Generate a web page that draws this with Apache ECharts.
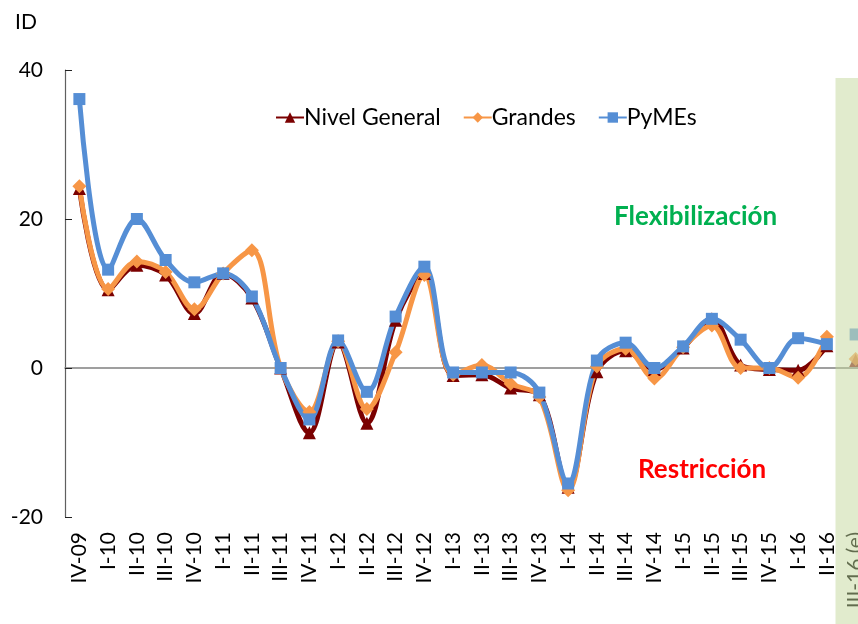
<!DOCTYPE html>
<html>
<head>
<meta charset="utf-8">
<script src="https://cdn.jsdelivr.net/npm/echarts@6/dist/echarts.min.js"></script>
<style>
  html, body { margin: 0; padding: 0; background: #fff; }
  #chart { width: 858px; height: 624px; }
</style>
</head>
<body>
<div id="chart"></div>
<script>
// trimestres
var categories = ['IV-09', 'I-10', 'II-10', 'III-10', 'IV-10', 'I-11', 'II-11', 'III-11', 'IV-11',
  'I-12', 'II-12', 'III-12', 'IV-12', 'I-13', 'II-13', 'III-13', 'IV-13', 'I-14', 'II-14',
  'III-14', 'IV-14', 'I-15', 'II-15', 'III-15', 'IV-15', 'I-16', 'II-16', 'III-16 (e)'];

var nivelGeneral = [24.1, 10.5, 13.8, 12.5, 7.3, 12.7, 9.4, 0, -8.7, 3.5, -7.4, 6.4, 12.7, -1.0,
  -0.9, -2.7, -3.6, -16.0, -0.5, 2.3, -0.2, 2.7, 6.6, 0.4, -0.2, -0.3, 3.0];
var grandes = [24.4, 10.6, 14.3, 12.9, 7.9, 12.7, 15.8, 0, -5.9, 3.6, -5.5, 2.1, 12.5, -0.9,
  0.4, -2.1, -3.9, -16.4, 0.2, 2.6, -1.4, 2.8, 5.7, 0, 0, -1.3, 4.2];
var pymes = [36.1, 13.2, 20.0, 14.5, 11.5, 12.7, 9.6, 0, -6.9, 3.7, -3.2, 6.9, 13.6, -0.6,
  -0.6, -0.6, -3.3, -15.5, 1.0, 3.4, 0, 2.9, 6.6, 3.8, 0, 4.0, 3.2];

// estimacion III-16 (puntos sueltos)
var estNivel = 1.0;
var estGrandes = 1.2;
var estPymes = 4.5;

var yTicks = [-20, 0, 20, 40];

var font = 'Lato, "DejaVu Sans", sans-serif';
var chart = echarts.init(document.getElementById('chart'));

chart.setOption({
  animation: false,
  textStyle: { fontFamily: font },
  grid: { left: 65, top: 70, bottom: 107, width: 805, outerBoundsMode: 'none', containLabel: false },
  legend: {
    left: 270,
    top: 101,
    itemGap: 22,
    itemWidth: 28,
    itemHeight: 13,
    textStyle: { fontSize: 23, color: '#000', fontFamily: font, padding: [0, 0, 0, -5] },
    data: ['Nivel General', 'Grandes', 'PyMEs']
  },
  xAxis: [
    {
      type: 'category',
      data: categories,
      axisLine: { onZero: true, lineStyle: { color: '#808080', width: 1.5 } },
      axisTick: { inside: true, length: 6, lineStyle: { color: '#222' } },
      axisLabel: { show: false },
      splitLine: { show: false }
    },
    {
      type: 'category',
      data: categories,
      position: 'bottom',
      axisLine: { show: false, onZero: false },
      axisTick: { show: false },
      axisLabel: {
        rotate: 90,
        margin: 15,
        fontSize: 21,
        color: '#000',
        interval: 0
      },
      splitLine: { show: false }
    }
  ],
  yAxis: {
    type: 'value',
    min: yTicks[0],
    max: yTicks[yTicks.length - 1],
    interval: 20,
    axisLine: { show: true, lineStyle: { color: '#606060', width: 1.2 } },
    axisTick: { show: true, inside: true, length: 7, lineStyle: { color: '#222' } },
    axisLabel: { fontSize: 21, color: '#000', margin: 22 },
    splitLine: { show: false }
  },
  series: [
    {
      name: 'Nivel General',
      type: 'line',
      smooth: 0.35,
      data: nivelGeneral,
      symbol: 'triangle',
      symbolSize: 13,
      lineStyle: { width: 5, color: '#7B0000' },
      itemStyle: { color: '#7B0000' }
    },
    {
      name: 'Grandes',
      type: 'line',
      smooth: 0.35,
      data: grandes,
      symbol: 'diamond',
      symbolSize: 14,
      lineStyle: { width: 5, color: '#F79646' },
      itemStyle: { color: '#F79646' }
    },
    {
      name: 'PyMEs',
      type: 'line',
      smooth: 0.35,
      data: pymes,
      symbol: 'rect',
      symbolSize: 12,
      lineStyle: { width: 5, color: '#558ED5' },
      itemStyle: { color: '#558ED5' }
    },
    {
      name: 'Nivel General',
      type: 'scatter',
      symbol: 'triangle',
      symbolSize: 13,
      itemStyle: { color: '#7B0000' },
      data: [[categories[27], estNivel]]
    },
    {
      name: 'Grandes',
      type: 'scatter',
      symbol: 'diamond',
      symbolSize: 14,
      itemStyle: { color: '#F79646' },
      data: [[categories[27], estGrandes]]
    },
    {
      name: 'PyMEs',
      type: 'scatter',
      symbol: 'rect',
      symbolSize: 12,
      itemStyle: { color: '#558ED5' },
      data: [[categories[27], estPymes]]
    }
  ]
});

// banda de estimacion + textos
var xEst = chart.convertToPixel({ xAxisIndex: 0 }, categories[27]);
var xPrev = chart.convertToPixel({ xAxisIndex: 0 }, categories[26]);
var bandX = xEst - (xEst - xPrev) * 0.7;

chart.setOption({
  graphic: [
    {
      type: 'rect',
      z: 100,
      shape: { x: bandX, y: 78, width: 900 - bandX, height: 624 - 78 },
      style: { fill: 'rgba(196, 215, 155, 0.5)' }
    },
    {
      type: 'text', left: 15, top: 12,
      style: { text: 'ID', fontSize: 21, fill: '#000', fontFamily: font }
    },
    {
      type: 'text', left: 614, top: 204,
      style: { text: 'Flexibilización', fontSize: 26, fontWeight: 'bold', fill: '#00B050', fontFamily: font }
    },
    {
      type: 'text', left: 638, top: 457,
      style: { text: 'Restricción', fontSize: 26, fontWeight: 'bold', fill: '#FF0000', fontFamily: font }
    }
  ]
});
</script>
</body>
</html>
